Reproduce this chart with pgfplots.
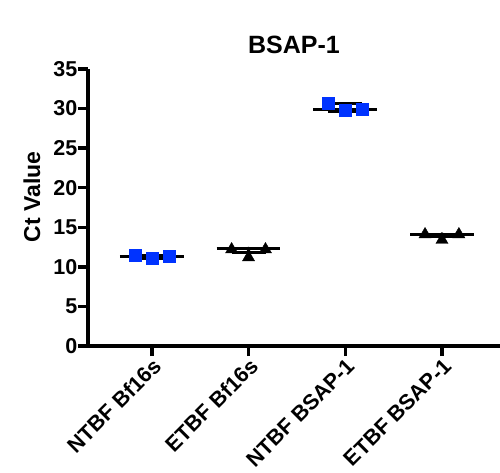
\documentclass[border=0pt]{standalone}
\usepackage{fontspec}
\setmainfont{Liberation Sans}
\usepackage{pgfplots}
\pgfplotsset{compat=1.18}
\definecolor{sqblue}{RGB}{0,51,255}
\begin{document}
\begin{tikzpicture}
\useasboundingbox (-88pt,-126pt) rectangle (412pt,346pt);
\begin{axis}[
  scale only axis, width=412pt, height=277pt,
  xmin=-0.66, xmax=3.6, ymin=0, ymax=35,
  axis x line=bottom, axis y line=left,
  axis line style={-, line width=3.5pt},
  tick style={line width=3.5pt, black},
  tick align=outside, major tick length=10pt,
  xtick={0,1,2,3},
  xticklabels={NTBF Bf16s, ETBF Bf16s, NTBF BSAP-1, ETBF BSAP-1},
  ytick={0,5,...,35},
  /pgf/number format/assume math mode=true,
  tick label style={font=\fontsize{21.5}{25}\selectfont\bfseries},
  xticklabel style={rotate=45, anchor=north east, inner sep=0.5pt},
  yticklabel style={inner sep=0.5pt},
  ylabel={Ct Value},
  ylabel style={font=\fontsize{23}{27}\selectfont\bfseries,
    at={(axis description cs:-0.107,0.538)}},
  clip=false,
]
% median lines
\addplot[black, line width=3pt] coordinates {(-0.33,11.33) (0.33,11.33)};
\addplot[black, line width=3pt] coordinates {(0.67,12.26) (1.33,12.26)};
\addplot[black, line width=3pt] coordinates {(1.67,29.84) (2.33,29.84)};
\addplot[black, line width=3pt] coordinates {(2.67,14.07) (3.33,14.07)};
% range bars
\addplot[black, only marks, mark=none,
  error bars/.cd, y dir=both, y explicit, error mark=|,
  error bar style={draw=black, line width=3pt},
  error mark options={draw=black, line width=3pt, mark size=17pt}]
  coordinates {
    (0,11.33) += (0,0.15) -= (0,0.25)
    (1,12.26) += (0,0) -= (0,0.45)
    (2,29.84) += (0,0.76) -= (0,0.24)
    (3,14.07) += (0,0) -= (0,0.25)
  };
% NTBF points
\addplot[only marks, mark=square*, mark size=6pt, color=sqblue, mark options={draw=sqblue, fill=sqblue}]
  coordinates {(-0.175,11.5) (0,11.05) (0.175,11.4)
               (1.825,30.68) (2,29.75) (2.175,29.87)};
% ETBF points
\addplot[only marks, mark=triangle*, mark size=7pt, color=black]
  coordinates {(0.825,12.2) (1,11.2) (1.175,12.2)
               (2.825,14.1) (3,13.4) (3.175,14.1)};
\node[font=\fontsize{25}{30}\selectfont\bfseries] at (rel axis cs:0.5,1) [yshift=24pt] {BSAP-1};
\end{axis}
\end{tikzpicture}
\end{document}
